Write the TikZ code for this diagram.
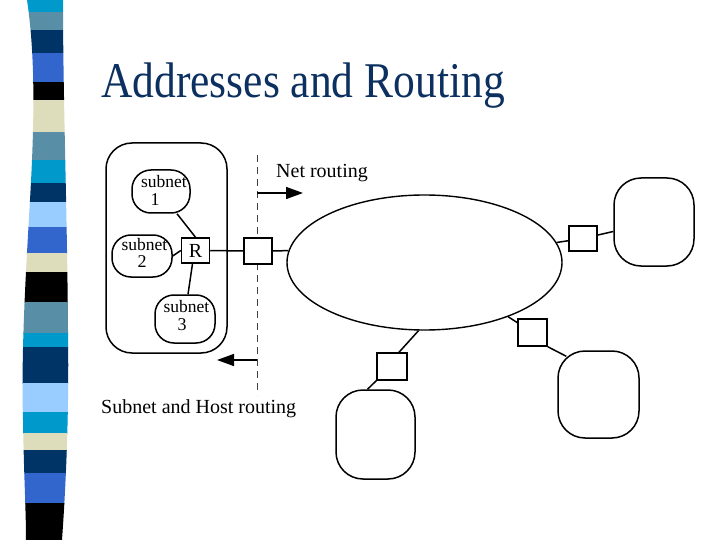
\documentclass[tikz,border=0pt]{standalone}
\usepackage{fontspec}
\usepackage{graphicx}
\setmainfont{Liberation Serif}
\usetikzlibrary{arrows.meta,shapes.geometric}
\definecolor{titleblue}{RGB}{12,48,96}
\definecolor{scyan}{RGB}{0,153,204}
\definecolor{ssteel}{RGB}{88,142,166}
\definecolor{snavy}{RGB}{0,51,102}
\definecolor{sroyal}{RGB}{51,102,204}
\definecolor{sbeige}{RGB}{221,221,187}
\definecolor{slight}{RGB}{153,204,255}
\begin{document}
\begin{tikzpicture}[x=1pt,y=-1pt,
  ln/.style={line width=1.5pt},
  sq/.style={draw, fill=white, line width=1.5pt, inner sep=0pt, minimum width=28pt, minimum height=26pt},
  blob/.style={draw, line width=1.5pt, rounded corners=27pt, inner sep=0pt},
  sub/.style={draw, line width=1.5pt, rounded corners=19pt, inner sep=0pt},
  lbl/.style={font=\fontsize{17.5}{18}\selectfont, inner sep=0pt, anchor=base},
  dig/.style={font=\fontsize{18}{19}\selectfont, inner sep=0pt, anchor=base},
  captxt/.style={font=\fontsize{20}{22}\selectfont, inner sep=0pt, anchor=base west},
  arr/.style={line width=1.5pt, -{Triangle[length=17pt,width=12pt]}}]
\useasboundingbox[fill=white] (0,0) rectangle (720,540);
% stripe
\begin{scope}
\clip (27,0) .. controls (36,60) and (34,130) .. (30,200)
  .. controls (26,270) and (21,350) .. (23,420)
  .. controls (24,480) and (26,510) .. (26,540)
  -- (62,540) .. controls (67,470) and (69,400) .. (68,330)
  .. controls (67,200) and (63,100) .. (63,0) -- cycle;
\foreach \ya/\yb/\c in {0/12/scyan,12/30/ssteel,30/53/snavy,53/82/sroyal,82/100/black,
  100/132/sbeige,132/160/ssteel,160/183/scyan,183/202/snavy,202/227/slight,
  227/253/sroyal,253/272/sbeige,272/302/black,302/333/ssteel,333/347/scyan,
  347/383/snavy,383/412/slight,412/433/scyan,433/450/sbeige,450/473/snavy,
  473/503/sroyal,503/540/black}
  \fill[\c] (0,\ya) rectangle (100,\yb+0.5);
\end{scope}
% title
\node[anchor=base west, inner sep=0pt, text=titleblue, font=\fontsize{50}{52}\selectfont]
  (title) at (101,98) {\scalebox{0.87}[1]{Addresses and Routing}};
% routing boundary (behind the boxes)
\coordinate (dtop) at (257,155);
\coordinate (dbot) at (257,395);
\coordinate (na) at (257,193);
\coordinate (nb) at (303,193);
\coordinate (sa) at (257,360);
\coordinate (sb) at (217,360);
\draw[black!75, line width=0.8pt, dash pattern=on 7pt off 5pt] (dtop) -- (dbot);
% left group
\node[draw, line width=1.5pt, rounded corners=26pt, minimum width=121pt, minimum height=210pt, inner sep=0pt] (grp) at (166.5,248) {};
\node[sub, minimum width=58pt, minimum height=43pt] (s1) at (161,191.5) {};
\node[sub, minimum width=60pt, minimum height=42pt] (s2) at (142,256) {};
\node[sub, minimum width=60pt, minimum height=48pt] (s3) at (185,319) {};
\node[lbl] (s1a) at (164,188) {subnet};
\node[dig] (s1b) at (155,206) {1};
\node[lbl] (s2a) at (144.5,250) {subnet};
\node[dig] (s2b) at (142,267) {2};
\node[lbl] (s3a) at (186.5,312) {subnet};
\node[dig] (s3b) at (182,330) {3};
\node[sq, minimum width=28pt, minimum height=25pt, font=\fontsize{20}{22}\selectfont] (R) at (195.5,250.5) {R};
\node[sq] (b0) at (258,251) {};
% network
\node[draw, ellipse, line width=1.4pt, minimum width=275pt, minimum height=135pt, inner sep=0pt] (E) at (424.5,262.5) {};
\node[sq, minimum height=25pt] (b1) at (583,238.5) {};
\node[blob, minimum width=80pt, minimum height=88pt] (B1) at (654,222) {};
\node[sq, minimum width=29pt, minimum height=27pt] (b2) at (532.5,332.5) {};
\node[blob, minimum width=81pt, minimum height=87pt] (B2) at (598.5,394.5) {};
\node[sq, minimum width=30pt, minimum height=27pt] (b3) at (392,366.5) {};
\node[blob, minimum width=79pt, minimum height=89pt] (B3) at (375.5,434.5) {};
% connectors
\draw[ln] ([xshift=16pt]s1.south) -- (R.north);
\draw[ln] (s2.east) -- (R.west);
\draw[ln] ([xshift=-3pt]R.south) -- ([xshift=3pt]s3.north);
\draw[ln] (R.east) -- (b0.west);
\draw[ln] (b0.east) -- (E.175);
\draw[ln] (E) -- (b1);
\draw[ln] (b1) -- (B1);
\draw[ln] (E) -- (b2);
\draw[ln] (b2.south east) -- ([shift={(9,6)}]B2.north west);
\draw[ln] (E.-95) -- ([xshift=7pt]b3.north);
\draw[ln] (b3.south west) -- ([xshift=-8pt]B3.north);
% arrows and captions
\draw[arr] (na) -- (nb);
\draw[arr] (sa) -- (sb);
\node[captxt] (nr) at (276,178) {Net routing};
\node[captxt] (sh) at (101,413) {Subnet and Host routing};
\end{tikzpicture}
\end{document}
